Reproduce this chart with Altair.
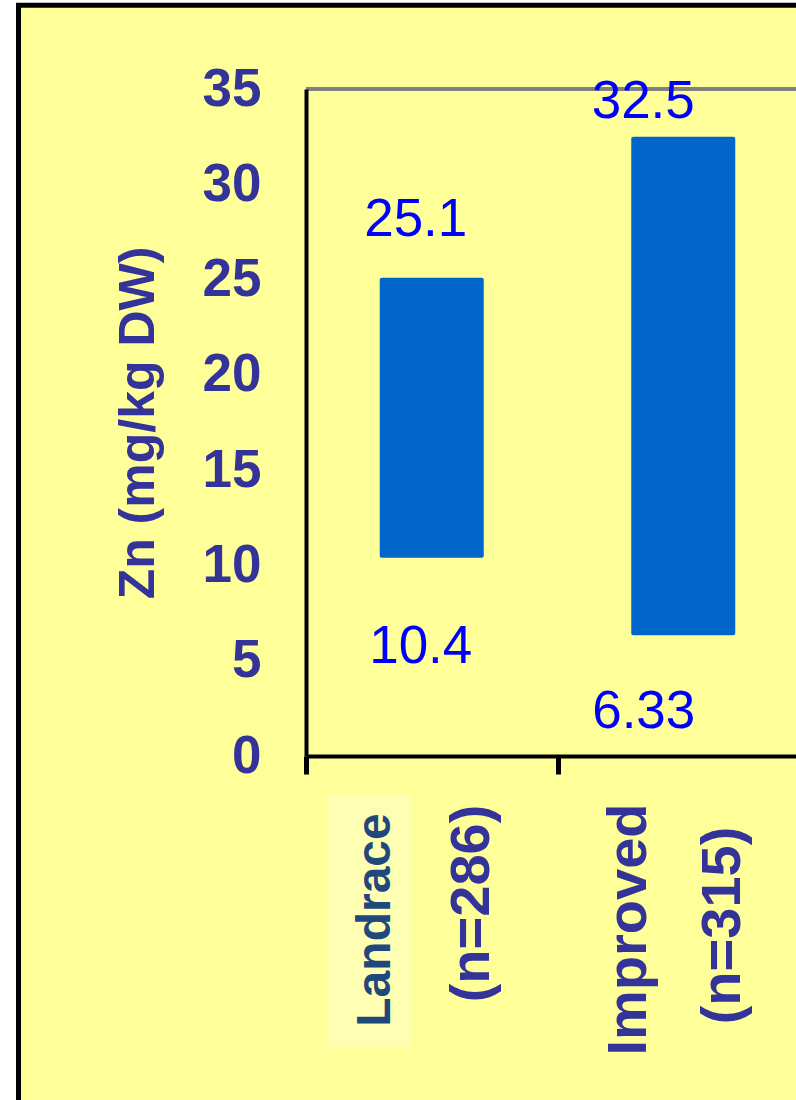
import altair as alt
import pandas as pd

# Zinc range per germplasm group
groups = ["Landrace", "Improved"]
sample_sizes = [286, 315]
zn_low = [10.4, 6.33]
zn_high = [25.1, 32.5]
y_ticks = [0, 5, 10, 15, 20, 25, 30, 35]

df = pd.DataFrame({
    "group": groups,
    "n_label": ["(n=%d)" % n for n in sample_sizes],
    "low": zn_low,
    "high": zn_high,
    "low_label": [str(v) for v in zn_low],
    "high_label": [str(v) for v in zn_high],
})

FONT = "Liberation Sans"
AXIS_BLUE = "#333399"
LABEL_BLUE = "#0000FF"
BAR_BLUE = "#0066CC"
PANEL = "#FFFF99"

PLOT_W = 490
PLOT_H = 667
STEP = 251.5

x_enc = alt.X(
    "group:N",
    sort=groups,
    scale=alt.Scale(domain=groups, range=[0, STEP * len(groups)], paddingInner=0, paddingOuter=0),
    axis=alt.Axis(
        title=None, labels=False, domainColor="black", domainWidth=4,
        tickColor="black", tickWidth=5, tickSize=18, tickBand="extent", zindex=1,
    ),
)

y_axis = alt.Axis(
    title="Zn (mg/kg DW)", values=y_ticks, grid=False, ticks=False, tickSize=0,
    labelFont=FONT, labelFontSize=53, labelFontWeight="bold", labelColor=AXIS_BLUE,
    labelPadding=45, labelBaseline="middle",
    domainColor="black", domainWidth=4,
    titleFont=FONT, titleFontSize=50, titleFontWeight="bold", titleColor=AXIS_BLUE,
    titleAngle=270, titleAlign="center", titleBaseline="middle",
    titleX=-167.5, titleY=PLOT_H / 2, zindex=1,
)
y_scale = alt.Scale(domain=[0, 35], nice=False, zero=True)

one_row = pd.DataFrame({"k": [0]})

# yellow slide panel with its black frame
panel = alt.Chart(one_row).mark_rect(fill=PANEL, stroke="black", strokeWidth=5).encode(
    x=alt.value(-287.5), x2=alt.value(PLOT_W + 100),
    y=alt.value(-83.7), y2=alt.value(PLOT_H + 500),
)

# pale box behind the first category name
name_box = alt.Chart(df).transform_filter(alt.datum.group == "Landrace").mark_bar(
    color="#FFFFB3", width=84, xOffset=-62.75
).encode(x=x_enc, y=alt.value(706), y2=alt.value(958))

# grey top border of the plot area
top_line = alt.Chart(one_row).mark_rule(color="#808080", strokeWidth=4).encode(
    x=alt.value(0), x2=alt.value(PLOT_W + 20), y=alt.value(0)
)

bars = alt.Chart(df).mark_bar(color=BAR_BLUE, width=104, cornerRadius=2).encode(
    x=x_enc,
    y=alt.Y("low:Q", scale=y_scale, axis=y_axis),
    y2="high:Q",
)

# value labels: (group, field, text field, dx, dy)
value_labels = [
    ("Landrace", "high", "high_label", -16, -57.6),
    ("Landrace", "low", "low_label", -11, 89.3),
    ("Improved", "high", "high_label", -40, -35.1),
    ("Improved", "low", "low_label", -39.5, 76.4),
]
value_layers = [
    alt.Chart(df).transform_filter(alt.datum.group == g).mark_text(
        font=FONT, fontSize=53, color=LABEL_BLUE, align="center", baseline="middle", dx=dx, dy=dy
    ).encode(
        x=x_enc,
        y=alt.Y(f"{field}:Q", scale=y_scale, axis=y_axis),
        text=f"{txt}:N",
    )
    for g, field, txt, dx, dy in value_labels
]

# rotated category labels: (group, text field, size, colour, dx, dy)
cat_labels = [
    ("Landrace", "group", 48, "#1F497D", -164, -56),
    ("Landrace", "n_label", 56, AXIS_BLUE, -147.5, 40.5),
    ("Improved", "group", 56, AXIS_BLUE, -173.5, -54),
    ("Improved", "n_label", 56, AXIS_BLUE, -169.5, 40),
]
cat_layers = [
    alt.Chart(df).transform_filter(alt.datum.group == g).mark_text(
        font=FONT, fontSize=size, fontWeight="bold", color=col, angle=270,
        align="center", baseline="middle", dx=dx, dy=dy,
    ).encode(x=x_enc, y=alt.value(PLOT_H), text=f"{txt}:N")
    for g, txt, size, col, dx, dy in cat_labels
]

chart = alt.layer(
    panel, name_box, top_line, bars, *value_layers, *cat_layers
).properties(
    width=PLOT_W,
    height=PLOT_H,
    autosize=alt.AutoSizeParams(type="none"),
    padding={"left": 306, "top": 89, "right": 0, "bottom": 344},
    background="white",
).configure_view(stroke=None)

chart.save("out.html", embed_options={"renderer": "svg", "actions": False})
